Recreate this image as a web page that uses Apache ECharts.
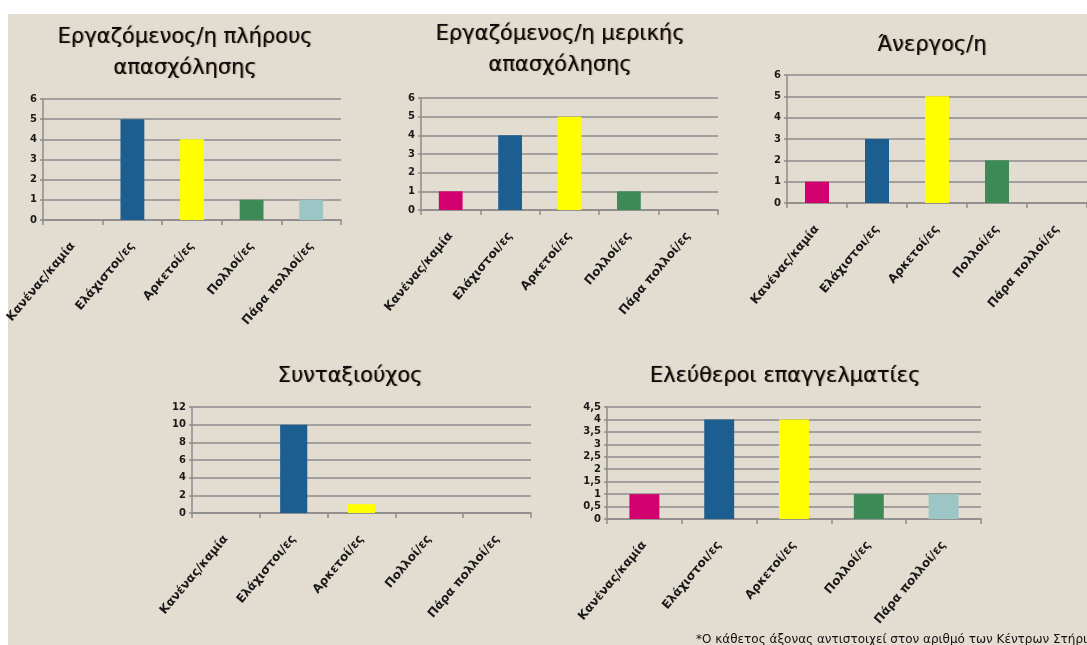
<!DOCTYPE html>
<html>
<head>
<meta charset="utf-8">
<script src="https://cdn.jsdelivr.net/npm/echarts@6/dist/echarts.min.js"></script>
<style>
  html, body { margin: 0; padding: 0; background: #ffffff; overflow: hidden; }
  #bg { position: absolute; left: 8px; top: 14px; right: 0; bottom: 0; background: #e2dcd1; }
  #chart { position: absolute; left: 0; top: 0; width: 1087px; height: 645px; }
</style>
</head>
<body>
<div id="bg"></div>
<div id="chart"></div>
<script>
// κατηγορίες και τιμές ανά ομάδα
const categories = ['Κανένας/καμία', 'Ελάχιστοι/ες', 'Αρκετοί/ες', 'Πολλοί/ες', 'Πάρα πολλοί/ες'];
const fullTime = [0, 5, 4, 1, 1];
const partTime = [1, 4, 5, 1, 0];
const unemployed = [1, 3, 5, 2, 0];
const retired = [0, 10, 1, 0, 0];
const freelancers = [1, 4, 4, 1, 1];
const barColors = ['#d1006e', '#1d5e91', '#ffff00', '#3e8a56', '#9cc6c5'];
const titles = ['Εργαζόμενος/η πλήρους\nαπασχόλησης', 'Εργαζόμενος/η μερικής\nαπασχόλησης', 'Άνεργος/η', 'Συνταξιούχος', 'Ελεύθεροι επαγγελματίες'];
const yMax = [6, 6, 6, 12, 4.5];
const yStep = [1, 1, 1, 2, 0.5];
const footnote = '*Ο κάθετος άξονας αντιστοιχεί στον αριθμό των Κέντρων Στήριξης';

const panels = [
  { data: fullTime, grid: { left: 43, top: 99, width: 298, height: 121 }, tx: 180, ty: 17 },
  { data: partTime, grid: { left: 421, top: 98, width: 297, height: 112 }, tx: 555, ty: 14 },
  { data: unemployed, grid: { left: 787, top: 75, width: 300, height: 128 }, tx: 927, ty: 25 },
  { data: retired, grid: { left: 192, top: 407, width: 339, height: 106 }, tx: 345, ty: 356 },
  { data: freelancers, grid: { left: 607, top: 407, width: 374, height: 112 }, tx: 780, ty: 356 }
];

const gray = '#8c8c8c';
const chart = echarts.init(document.getElementById('chart'));

const option = {
  animation: false,
  backgroundColor: 'transparent',
  textStyle: { fontFamily: 'DejaVu Sans' },
  title: panels.map((p, i) => ({
    text: titles[i],
    left: p.tx,
    top: p.ty,
    textAlign: 'center',
    textStyle: {
      fontFamily: 'DejaVu Sans',
      fontSize: 21,
      fontWeight: 'normal',
      lineHeight: 31,
      color: '#0d0d0d',
      textShadowColor: 'rgba(70,35,0,0.6)',
      textShadowOffsetX: 1,
      textShadowBlur: 1
    }
  })),
  grid: panels.map(p => Object.assign({ containLabel: false }, p.grid)),
  xAxis: panels.map((p, i) => ({
    type: 'category',
    gridIndex: i,
    data: categories,
    axisLine: { lineStyle: { color: gray, width: 1.5 } },
    axisTick: { show: true, length: 5, lineStyle: { color: gray, width: 1.5 } },
    axisLabel: {
      rotate: 50,
      interval: 0,
      margin: 24,
      fontSize: 12,
      fontWeight: 'bold',
      fontFamily: 'DejaVu Sans',
      color: '#1a1a1a'
    }
  })),
  yAxis: panels.map((p, i) => ({
    type: 'value',
    gridIndex: i,
    min: 0,
    max: yMax[i],
    interval: yStep[i],
    axisLine: { show: true, lineStyle: { color: gray, width: 1.5 } },
    axisTick: { show: true, length: 3, lineStyle: { color: gray, width: 1.5 } },
    splitLine: { lineStyle: { color: gray, width: 1.5 } },
    axisLabel: {
      margin: 6,
      fontSize: 10,
      fontWeight: 'bold',
      color: '#1a1a1a',
      formatter: v => String(v).replace('.', ',')
    }
  })),
  series: panels.map((p, i) => ({
    type: 'bar',
    xAxisIndex: i,
    yAxisIndex: i,
    barWidth: '40%',
    data: p.data.map((v, j) => ({ value: v, itemStyle: { color: barColors[j] } }))
  })),
  graphic: [{
    type: 'text',
    left: 696,
    top: 634,
    style: { text: footnote, fontSize: 12, fontFamily: 'DejaVu Sans', fill: '#111' }
  }]
};

chart.setOption(option);
</script>
</body>
</html>
